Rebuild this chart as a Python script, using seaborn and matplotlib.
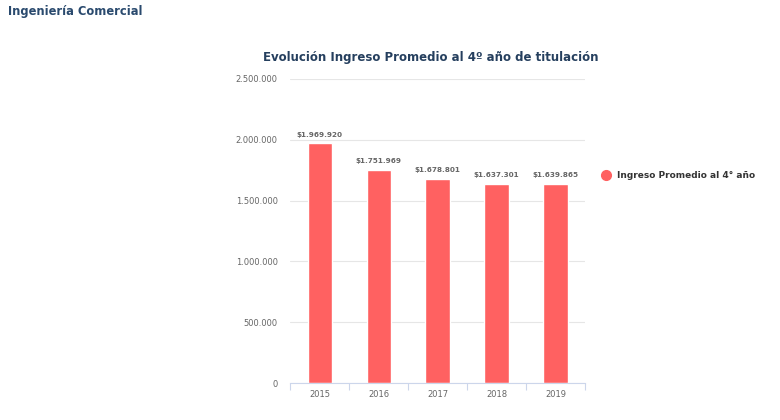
import pandas as pd
import numpy as np
import matplotlib.pyplot as plt
from matplotlib.lines import Line2D
import seaborn as sns

sns.set_theme(style="white")
plt.rcParams['font.family'] = ['DejaVu Sans']

# Datos
anios = ['2015', '2016', '2017', '2018', '2019']
ingreso = [1969920, 1751969, 1678801, 1637301, 1639865]
etiquetas = ['$1.969.920', '$1.751.969', '$1.678.801', '$1.637.301', '$1.639.865']
serie = 'Ingreso Promedio al 4° año'

color_barra = '#ff6161'
gris = '#666666'

def miles(v, pos=None):
    return f'{int(v):,}'.replace(',', '.')

def main():
    data = pd.DataFrame({'anio': anios, 'ingreso': ingreso})

    fig = plt.figure(figsize=(7.8, 4.2), dpi=100)
    ax = fig.add_axes([0.372, 0.088, 0.378, 0.724])

    sns.barplot(data=data, x='anio', y='ingreso', color=color_barra,
                width=0.41, saturation=1, ax=ax)

    # Etiquetas de valor sobre cada barra
    for i, (v, t) in enumerate(zip(ingreso, etiquetas)):
        ax.text(i, v + 45000, t, ha='center', va='bottom', fontsize=5.2,
                color=gris, fontweight='bold')

    ax.set_ylim(0, 2500000)
    ax.set_xlim(-0.5, 4.5)
    ax.set_yticks(np.arange(0, 2500001, 500000))
    ax.yaxis.set_major_formatter(plt.FuncFormatter(miles))
    ax.grid(axis='y', color='#e6e6e6', linewidth=0.8)
    ax.set_axisbelow(True)

    for s in ['top', 'right', 'left']:
        ax.spines[s].set_visible(False)
    ax.spines['bottom'].set_color('#ccd6eb')
    ax.spines['bottom'].set_linewidth(0.8)

    # Marcas en los límites entre categorías
    ax.set_xticks(np.arange(-0.5, 5, 1), minor=True)
    ax.tick_params(axis='x', which='minor', length=5, color='#ccd6eb',
                   width=0.8, bottom=True)
    ax.tick_params(axis='x', which='major', length=0, labelsize=6,
                   labelcolor=gris, pad=5)
    ax.tick_params(axis='y', length=0, labelsize=6, labelcolor=gris, pad=9)
    ax.set_xlabel('')
    ax.set_ylabel('')

    fig.text(0.552, 0.862, 'Evolución Ingreso Promedio al 4º año de titulación',
             ha='center', va='center', fontsize=8.5, fontweight='bold',
             color='#253f5e')
    fig.text(0.010, 0.972, 'Ingeniería Comercial', ha='left', va='center',
             fontsize=8.3, fontweight='bold', color='#2a4a6e')

    handle = Line2D([0], [0], marker='o', linestyle='', markersize=7,
                    markerfacecolor=color_barra, markeredgecolor=color_barra)
    fig.legend([handle], [serie], loc='center left',
               bbox_to_anchor=(0.755, 0.581), frameon=False,
               handletextpad=0.2, prop={'size': 6.5, 'weight': 'bold'},
               labelcolor='#333333')

    fig.savefig('out.png', dpi=100)

if __name__ == "__main__":
    main()
